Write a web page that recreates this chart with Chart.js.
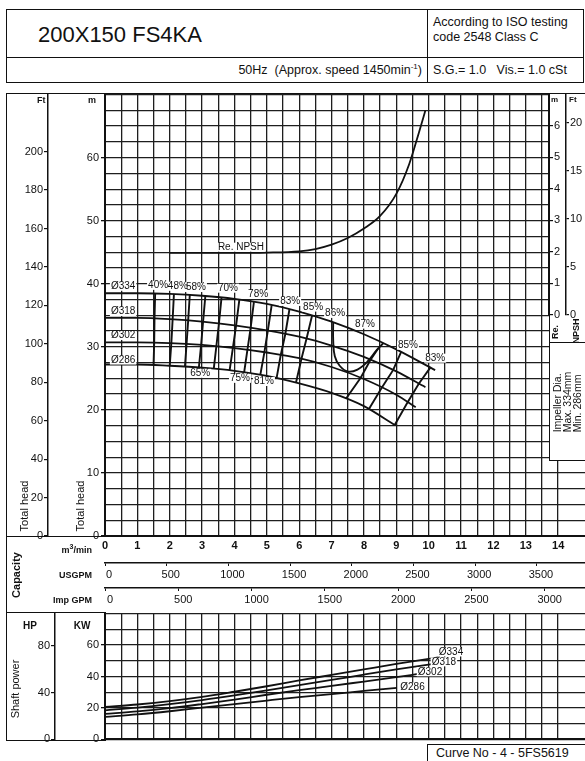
<!DOCTYPE html>
<html><head><meta charset="utf-8">
<script src="https://cdn.jsdelivr.net/npm/chart.js@4.4.1/dist/chart.umd.min.js"></script>
<style>
html,body{margin:0;padding:0;background:#fff;}
body{width:585px;height:761px;position:relative;overflow:hidden;font-family:"Liberation Sans",Arial,sans-serif;color:#111;}
canvas{position:absolute;}
.hl{position:absolute;height:0;border-top:1.5px solid #111;z-index:5;}
.vl{position:absolute;width:0;border-left:1.5px solid #111;z-index:5;}
.t{position:absolute;white-space:nowrap;z-index:6;line-height:1;}
.c{transform:translate(-50%,-50%);}
.r{transform:translate(-50%,-50%) rotate(-90deg);}
</style></head><body>
<!-- header table -->
<div style="position:absolute;left:6px;top:9px;width:576px;height:72px;border:1.5px solid #111;"></div>
<div class="hl" style="left:6px;top:57px;width:578px;"></div>
<div class="vl" style="left:427px;top:9px;height:74px;"></div>
<div class="t" style="left:38px;top:35px;transform:translateY(-50%);font-size:22px;">200X150 FS4KA</div>
<div class="t" style="left:433px;top:15px;font-size:12.5px;line-height:15px;">According to ISO testing<br>code 2548 Class C</div>
<div class="t" style="right:163px;top:70px;transform:translateY(-50%);font-size:12.5px;">50Hz&nbsp; (Approx. speed 1450min<sup style="font-size:8px">-1</sup>)</div>
<div class="t" style="left:433px;top:70px;transform:translateY(-50%);font-size:12.5px;">S.G.= 1.0&nbsp;&nbsp; Vis.= 1.0 cSt</div>

<canvas id="cA" width="585" height="527" style="left:0;top:86px;z-index:1"></canvas>
<div style="position:absolute;left:549px;top:93px;width:36px;height:367px;background:#fff;border-left:1.5px solid #111;border-bottom:1.5px solid #111;z-index:2"></div>
<div class="hl" style="left:549px;top:342px;width:36px;"></div>
<canvas id="cB" width="585" height="241" style="left:0;top:86px;z-index:3"></canvas>
<canvas id="cC" width="585" height="143" style="left:0;top:605px;z-index:1"></canvas>

<!-- frame -->
<div class="vl" style="left:6px;top:93px;height:648px;"></div>
<div class="hl" style="left:6px;top:93px;width:579px;"></div>
<div class="hl" style="left:6px;top:536px;width:100px;"></div>
<div class="hl" style="left:6px;top:612px;width:100px;"></div>
<div class="hl" style="left:6px;top:740px;width:100px;"></div>

<!-- left labels -->
<div class="t" style="left:37px;top:96px;font-size:9px;font-weight:bold;">Ft</div>
<div class="t" style="left:88px;top:96px;font-size:9px;font-weight:bold;">m</div>
<div class="t r" style="left:24px;top:506px;font-size:11px;">Total head</div>
<div class="t r" style="left:80px;top:506px;font-size:11px;">Total head</div>
<div class="t" style="right:493px;top:549px;transform:translateY(-50%);font-size:9px;font-weight:bold;">m<sup style="font-size:7px">3</sup>/min</div>
<div class="t" style="right:493px;top:575px;transform:translateY(-50%);font-size:9px;font-weight:bold;">USGPM</div>
<div class="t" style="right:493px;top:600px;transform:translateY(-50%);font-size:9px;font-weight:bold;">Imp GPM</div>
<div class="t r" style="left:16px;top:575px;font-size:11px;font-weight:bold;">Capacity</div>
<div class="t c" style="left:30px;top:626px;font-size:10px;font-weight:bold;">HP</div>
<div class="t c" style="left:82px;top:626px;font-size:10px;font-weight:bold;">KW</div>
<div class="t r" style="left:15px;top:689px;font-size:11px;">Shaft power</div>

<!-- right panel labels -->
<div class="t" style="left:551px;top:96px;font-size:8px;font-weight:bold;">m</div>
<div class="t" style="left:569px;top:96px;font-size:8px;font-weight:bold;">Ft</div>
<div class="t r" style="left:555px;top:332px;font-size:9px;font-weight:bold;">Re.</div>
<div class="t r" style="left:576px;top:331px;font-size:9px;font-weight:bold;">NPSH</div>
<div class="t r" style="left:567px;top:402px;font-size:10.5px;line-height:10px;">Impeller Dia.<br>Max. 334mm<br>Min. 286mm</div>

<div style="position:absolute;left:427px;top:744px;width:160px;height:22px;border:1.5px solid #111;background:#fff;z-index:6"></div>
<div class="t" style="left:436px;top:753px;transform:translateY(-50%);font-size:12.5px;z-index:7;">Curve No - 4 - 5FS5619</div>

<script>
// ---------- DATA ----------
// capacity axis (m3/min) and converted scales
const qMax = 14.83;
const usgpmMax = 3890;
const impgpmMax = 3275;
const capTicks = [0,1,2,3,4,5,6,7,8,9,10,11,12,13,14];
const usgpmTicks = [0,500,1000,1500,2000,2500,3000,3500];
const impgpmTicks = [0,500,1000,1500,2000,2500,3000];
const mTicks = [0,10,20,30,40,50,60];
const ftTicks = [0,20,40,60,80,100,120,140,160,180,200];
const npshMTicks = [0,1,2,3,4,5,6];
const npshFtTicks = [0,5,10,15,20];
const kwTicks = [0,20,40,60];
const hpTicks = [0,40,80];

// head curves (Q m3/min, H m)
const q334 = [0,1,2,3,4,5,6,7,8,9,10.2];
const h334 = [38.5,38.5,38.4,38.1,37.6,36.8,35.6,34.0,32.0,29.6,26.3];
const q318 = [0,1,2,3,4,5,6,7,8,9,9.9];
const h318 = [34.6,34.6,34.4,34.0,33.4,32.6,31.6,30.2,28.4,26.1,23.6];
const q302 = [0,1,2,3,4,5,6,7,8,9,9.6];
const h302 = [30.7,30.7,30.6,30.3,29.8,29.1,28.2,26.8,24.9,22.4,20.4];
const q286 = [0,1,2,3,4,5,6,7,8,8.95];
const h286 = [27.2,27.2,27.0,26.7,26.2,25.4,24.2,22.7,20.6,17.6];

// required NPSH (m)
const qNpsh = [2.0,3,4,5,6,6.5,7,7.5,8,8.5,9,9.4,9.7,9.9];
const npsh = [1.98,1.98,1.98,1.99,2.03,2.1,2.24,2.45,2.75,3.15,3.85,4.8,5.8,6.5];

// iso-efficiency lines [Q, H]
const eff40 = [[1.55,38.5],[1.53,34.6],[1.52,30.7],[1.50,27.2]];
const eff48 = [[2.13,38.4],[2.09,34.4],[2.05,30.6],[2.00,27.0]];
const eff58 = [[2.62,38.25],[2.57,34.2],[2.52,30.45],[2.47,26.85]];
const eff65 = [[3.10,38.05],[3.03,34.0],[2.97,30.3],[2.90,26.7]];
const eff70 = [[3.60,37.8],[3.52,33.7],[3.44,30.08],[3.36,26.5]];
const eff75 = [[4.15,37.45],[4.05,33.35],[3.95,29.8],[3.85,26.25]];
const eff78 = [[4.60,37.1],[4.50,33.0],[4.40,29.5],[4.30,26.0]];
const eff81 = [[5.15,36.6],[5.03,32.55],[4.92,29.0],[4.80,25.6]];
const eff83 = [[5.70,36.0],[5.57,32.0],[5.43,28.7],[5.30,25.0]];
const eff85 = [[6.40,35.0],[6.23,31.35],[6.07,28.1],[5.90,24.3]];
const eff87 = [[7.05,33.9],[7.05,31.0],[7.10,28.5],[7.25,27.0],[7.50,26.1],[7.80,26.4],[8.10,27.6],[8.40,29.5],[8.60,30.6]];
const eff86r = [[8.45,29.8],[8.20,27.9],[7.90,25.1],[7.45,21.8]];
const eff85r = [[9.15,29.2],[8.90,26.3],[8.55,23.5],[8.15,20.1]];
const eff83r = [[10.05,26.7],[9.70,24.2],[9.35,21.2],[8.95,17.6]];

// head chart labels [text, Q, H]
const effLabels = [['40%',1.64,39.75],['48%',2.25,39.6],['58%',2.81,39.4],['70%',3.80,39.3],['78%',4.73,38.3],
  ['83%',5.72,37.2],['85%',6.43,36.3],['86%',7.11,35.3],['87%',8.03,33.6],['85%',9.36,30.25],['83%',10.2,28.2],
  ['65%',2.94,25.8],['75%',4.17,25.0],['81%',4.91,24.5]];
const diaLabels = [['Ø334',0.56,39.6],['Ø318',0.56,35.6],['Ø302',0.56,31.8],['Ø286',0.56,27.9],['Re. NPSH',4.2,45.8]];

// shaft power (kW)
const p334q = [0,1,2,3,4,5,6,7,8,9,10.35];
const p334 = [20.6,22.2,24.3,27.0,30.3,33.8,37.5,41.0,44.5,48.0,52.3];
const p318q = [0,1,2,3,4,5,6,7,8,9,10.1];
const p318 = [18.5,20.2,22.4,25.0,28.0,31.2,34.5,37.8,41.2,44.5,47.9];
const p302q = [0,1,2,3,4,5,6,7,8,9,9.67];
const p302 = [16.2,17.8,19.9,22.5,25.3,28.4,31.3,34.0,36.8,39.6,41.6];
const p286q = [0,1,2,3,4,5,6,7,8,9.02];
const p286 = [14.3,15.9,17.9,20.2,22.4,24.7,26.9,28.8,30.8,32.8];
const powLabels = [['Ø334',10.69,55.6],['Ø318',10.47,49.3],['Ø302',10.04,43.0],['Ø286',9.50,33.2]];

// ---------- CHARTS ----------
const FF = '"Liberation Sans", Arial, sans-serif';
const INK = '#111';
const GRID = '#1e1e1e';
const CLEAR = 'rgba(0,0,0,0)';
const has = (arr, v) => arr.some(a => Math.abs(a - v) < 1e-6);

const textPlugin = {
  id: 'textLabels',
  afterDatasetsDraw(chart, args, opts) {
    if (!opts || !opts.items) return;
    const ctx = chart.ctx;
    const xs = chart.scales.x, ys = chart.scales[opts.yId];
    ctx.save();
    ctx.font = opts.font;
    ctx.textAlign = 'center';
    ctx.textBaseline = 'middle';
    const pts = opts.items.map(l => [l[0], xs.getPixelForValue(l[1]), ys.getPixelForValue(l[2])]);
    ctx.fillStyle = '#fff';
    pts.forEach(p => { const w = ctx.measureText(p[0]).width; ctx.fillRect(p[1] - w / 2 - 1, p[2] - 4.5, w + 2, 9); });
    ctx.fillStyle = INK;
    pts.forEach(p => ctx.fillText(p[0], p[1], p[2]));
    ctx.restore();
  }
};

const line = (q, h, yId, extra) => Object.assign({
  data: q.map((v, i) => ({x: v, y: h[i]})), xAxisID: 'x', yAxisID: yId,
  showLine: true, pointRadius: 0, borderColor: INK, borderWidth: 1.8, fill: false,
  cubicInterpolationMode: 'monotone'
}, extra || {});
const pairLine = (pairs, tension) => ({
  data: pairs.map(p => ({x: p[0], y: p[1]})), xAxisID: 'x', yAxisID: 'y',
  showLine: true, pointRadius: 0, borderColor: INK, borderWidth: 1.9, fill: false, tension: tension
});

const tickFont = {family: FF, size: 11};
const base = {responsive: false, animation: false, devicePixelRatio: 1, events: []};

new Chart(document.getElementById('cA'), {
  type: 'scatter',
  data: {datasets: [
    line(q334, h334, 'y'), line(q318, h318, 'y'), line(q302, h302, 'y'), line(q286, h286, 'y'),
    pairLine(eff40, 0), pairLine(eff48, 0), pairLine(eff58, 0), pairLine(eff65, 0), pairLine(eff70, 0),
    pairLine(eff75, 0), pairLine(eff78, 0), pairLine(eff81, 0), pairLine(eff83, 0), pairLine(eff85, 0),
    pairLine(eff87, 0.4), pairLine(eff86r, 0), pairLine(eff85r, 0), pairLine(eff83r, 0),
    line(qNpsh, npsh, 'npsh')
  ]},
  options: Object.assign({}, base, {
    layout: {padding: {left: 7, top: 8, right: 0, bottom: 0}},
    plugins: {legend: {display: false}, tooltip: {enabled: false},
      textLabels: {yId: 'y', font: '10px ' + FF, items: effLabels.concat(diaLabels)}},
    scales: {
      x: {type: 'linear', position: 'bottom', weight: 0, min: 0, max: qMax,
        afterFit: s => { s.height = 27; },
        ticks: {stepSize: 0.5, autoSkip: false, maxRotation: 0, maxTicksLimit: 1000, padding: 3,
          color: INK, font: {family: FF, size: 11, weight: 'bold'},
          callback: v => v > 14.6 ? null : (has(capTicks, v) ? String(v) : '')},
        grid: {color: GRID, lineWidth: 1.3, drawTicks: false},
        border: {color: INK, width: 2}},
      usgpm: {type: 'linear', position: 'bottom', weight: 1, min: 0, max: usgpmMax,
        afterFit: s => { s.height = 25; },
        afterBuildTicks: s => { s.ticks = usgpmTicks.map(v => ({value: v})); },
        ticks: {autoSkip: false, maxRotation: 0, padding: 2, labelOffset: 4,
          color: INK, font: tickFont, callback: v => String(v)},
        grid: {drawOnChartArea: false, tickLength: 3, color: INK, lineWidth: 1},
        border: {color: INK, width: 1.5}},
      impgpm: {type: 'linear', position: 'bottom', weight: 2, min: 0, max: impgpmMax,
        afterFit: s => { s.height = 25; },
        afterBuildTicks: s => { s.ticks = impgpmTicks.map(v => ({value: v})); },
        ticks: {autoSkip: false, maxRotation: 0, padding: 2, labelOffset: 5,
          color: INK, font: tickFont, callback: v => String(v)},
        grid: {drawOnChartArea: false, tickLength: 3, color: INK, lineWidth: 1},
        border: {color: INK, width: 1.5}},
      y: {type: 'linear', position: 'left', weight: 0, min: 0, max: 70,
        afterFit: s => { s.width = 57; },
        ticks: {stepSize: 2.5, autoSkip: false, maxTicksLimit: 1000, padding: 2, color: INK, font: tickFont,
          callback: v => has(mTicks, v) ? String(v) : ''},
        grid: {color: GRID, lineWidth: 1.3, tickLength: 4,
          tickColor: c => (c.tick && has(mTicks, c.tick.value)) ? INK : CLEAR},
        border: {color: INK, width: 2}},
      ft: {type: 'linear', position: 'left', weight: 1, min: 0, max: 70 / 0.3048,
        afterFit: s => { s.width = 41; },
        afterBuildTicks: s => { s.ticks = ftTicks.map(v => ({value: v})); },
        ticks: {autoSkip: false, padding: 1, color: INK, font: tickFont, callback: v => String(v)},
        grid: {drawOnChartArea: false, tickLength: 4, color: INK, lineWidth: 1.2},
        border: {color: INK, width: 1.5}},
      npsh: {type: 'linear', axis: 'y', position: 'right', display: false, min: -7, max: 7}
    }
  }),
  plugins: [textPlugin]
});

new Chart(document.getElementById('cB'), {
  type: 'scatter',
  data: {datasets: []},
  options: Object.assign({}, base, {
    layout: {padding: {left: 0, top: 8, right: 0, bottom: 12}},
    plugins: {legend: {display: false}, tooltip: {enabled: false}},
    scales: {
      x: {type: 'linear', display: false, min: 0, max: 1},
      nm: {type: 'linear', position: 'right', weight: 0, min: 0, max: 7,
        afterFit: s => { s.width = 17; },
        afterBuildTicks: s => { s.ticks = npshMTicks.map(v => ({value: v})); },
        ticks: {autoSkip: false, padding: 1, color: INK, font: tickFont, callback: v => String(v)},
        grid: {drawOnChartArea: false, tickLength: 4, color: INK, lineWidth: 1.2},
        border: {color: INK, width: 1.5}},
      nft: {type: 'linear', position: 'right', weight: 1, min: 0, max: 7 / 0.3048,
        afterFit: s => { s.width = 19; },
        afterBuildTicks: s => { s.ticks = npshFtTicks.map(v => ({value: v})); },
        ticks: {autoSkip: false, padding: 1, color: INK, font: tickFont, callback: v => String(v)},
        grid: {drawOnChartArea: false, tickLength: 3, color: INK, lineWidth: 1.2},
        border: {color: INK, width: 1.5}}
    }
  })
});

new Chart(document.getElementById('cC'), {
  type: 'scatter',
  data: {datasets: [
    line(p334q, p334, 'kw'), line(p318q, p318, 'kw'), line(p302q, p302, 'kw'), line(p286q, p286, 'kw')
  ]},
  options: Object.assign({}, base, {
    layout: {padding: {left: 7, top: 8, right: 0, bottom: 8}},
    plugins: {legend: {display: false}, tooltip: {enabled: false},
      textLabels: {yId: 'kw', font: '10px ' + FF, items: powLabels}},
    scales: {
      x: {type: 'linear', position: 'bottom', min: 0, max: qMax,
        afterFit: s => { s.height = 0; },
        ticks: {display: false, stepSize: 0.5, autoSkip: false, maxTicksLimit: 1000,
          callback: v => v > 14.6 ? null : ''},
        grid: {color: GRID, lineWidth: 1.3, drawTicks: false},
        border: {color: INK, width: 2}},
      kw: {type: 'linear', position: 'left', weight: 0, min: 0, max: 80,
        afterFit: s => { s.width = 50; },
        ticks: {stepSize: 10, autoSkip: false, padding: 2, color: INK, font: tickFont,
          callback: v => has(kwTicks, v) ? String(v) : ''},
        grid: {color: GRID, lineWidth: 1.3, tickLength: 4,
          tickColor: c => (c.tick && has(kwTicks, c.tick.value)) ? INK : CLEAR},
        border: {color: INK, width: 2}},
      hp: {type: 'linear', position: 'left', weight: 1, min: 0, max: 80 / 0.7457,
        afterFit: s => { s.width = 48; },
        afterBuildTicks: s => { s.ticks = hpTicks.map(v => ({value: v})); },
        ticks: {autoSkip: false, padding: 1, color: INK, font: tickFont, callback: v => String(v)},
        grid: {drawOnChartArea: false, tickLength: 4, color: INK, lineWidth: 1.2},
        border: {color: INK, width: 1.5}}
    }
  }),
  plugins: [textPlugin]
});
</script>
</body></html>
